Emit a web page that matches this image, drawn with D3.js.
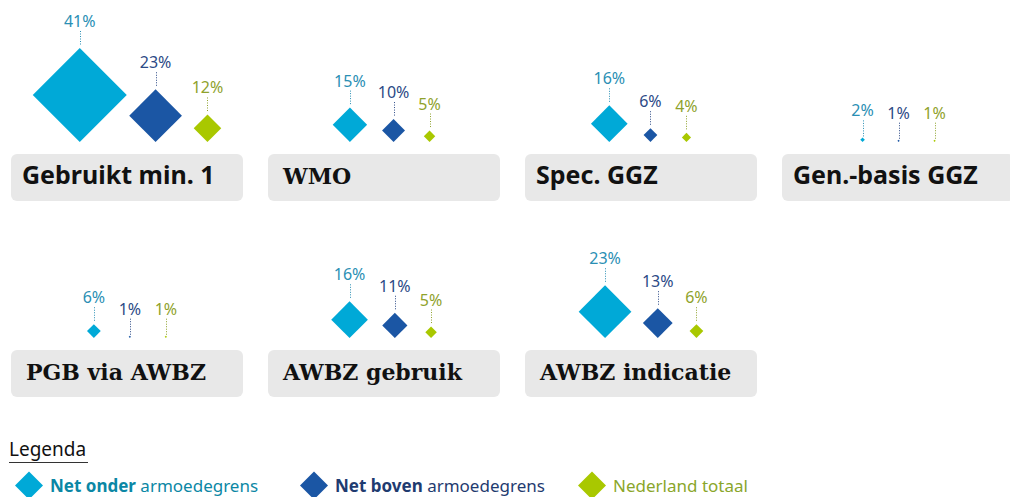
<!DOCTYPE html>
<html>
<head>
<meta charset="utf-8">
<script src="https://cdn.jsdelivr.net/npm/d3@7"></script>
<style>
  body { margin: 0; background: #fff; }
  svg { display: block; }
</style>
</head>
<body>
<script>
// data
const panels = ["Gebruikt min. 1", "WMO", "Spec. GGZ", "Gen.-basis GGZ", "PGB via AWBZ", "AWBZ gebruik", "AWBZ indicatie"];
const netOnder = [41, 15, 16, 2, 6, 16, 23];
const netBoven = [23, 10, 6, 1, 1, 11, 13];
const nederland = [12, 5, 4, 1, 1, 5, 6];
const legendBold = ["Net onder", "Net boven", ""];
const legendRest = ["armoedegrens", "armoedegrens", "Nederland totaal"];
const legendTitle = "Legenda";

// styling
const fills = ["#00a9d7", "#1b56a4", "#a9c800"];
const labelColors = ["#2a8fb4", "#2c4a86", "#8fa22c"];
const legendColors = ["#0b87a5", "#1f3b70", "#8aa62a"];
const serifPanels = new Set(["WMO", "PGB via AWBZ", "AWBZ gebruik", "AWBZ indicatie"]);

const w = 1010, h = 497;
const boxW = 232, boxH = 47;

const svg = d3.select('body').append('svg')
    .attr('width', w)
    .attr('height', h);

// grid of panels
const colX = d3.scaleLinear().domain([0, 1]).range([11, 268]);
const rowY = d3.scaleLinear().domain([0, 1]).range([154, 350]);

// half diagonal of a diamond
const size = d3.scaleLinear()
    .domain([0, d3.max(netOnder)])
    .range([0, 47]);

const series = [netOnder, netBoven, nederland];

panels.forEach((name, i) => {
    const col = i % 4;
    const row = Math.floor(i / 4);
    const bx = colX(col);
    const by = rowY(row);

    const g = svg.append('g');

    g.append('rect')
        .attr('x', bx)
        .attr('y', by)
        .attr('width', boxW)
        .attr('height', boxH)
        .attr('rx', 6)
        .attr('fill', '#e8e8e8');

    const serif = serifPanels.has(name);
    g.append('text')
        .attr('x', bx + (serif ? 15 : 11))
        .attr('y', by + 30)
        .attr('font-family', serif ? '"DejaVu Serif", serif' : '"Noto Sans", sans-serif')
        .attr('font-weight', 'bold')
        .attr('font-size', serif ? 22 : 25)
        .attr('fill', '#111')
        .text(name);

    // diamonds, placed next to each other and centred on the box
    const vals = series.map(s => s[i]);
    const halves = vals.map(v => size(v));
    const offs = [0];
    for (let k = 1; k < vals.length; k++) {
        const step = Math.max(36, 0.72 * (halves[k - 1] + halves[k]) + 23);
        offs.push(offs[k - 1] + step);
    }
    const left = offs[0] - halves[0];
    const right = offs[2] + halves[2];
    const shift = bx + boxW / 2 - (left + right) / 2;
    const base = by - 12;

    vals.forEach((v, k) => {
        const cx = shift + offs[k];
        const hd = halves[k];
        const cy = base - hd;
        const top = base - 2 * hd;

        g.append('path')
            .attr('d', `M${cx},${top}L${cx + hd},${cy}L${cx},${base}L${cx - hd},${cy}Z`)
            .attr('fill', fills[k]);

        const ty = Math.min(top - 21, base - 22);
        g.append('text')
            .attr('x', cx)
            .attr('y', ty)
            .attr('text-anchor', 'middle')
            .attr('font-family', '"Noto Sans", sans-serif')
            .attr('font-size', 16)
            .attr('fill', labelColors[k])
            .text(v + '%');

        const y2 = hd < 4 ? base - 2 * hd - 0.5 : top - 3;
        g.append('line')
            .attr('x1', Math.round(cx) + 0.5)
            .attr('x2', Math.round(cx) + 0.5)
            .attr('y1', ty + 4)
            .attr('y2', y2)
            .attr('stroke', labelColors[k])
            .attr('stroke-width', 1)
            .attr('stroke-dasharray', '1,1.5');
    });
});

// legend
svg.append('text')
    .attr('x', 9)
    .attr('y', 456)
    .attr('font-family', '"Noto Sans", sans-serif')
    .attr('font-size', 19)
    .attr('fill', '#111')
    .text(legendTitle);

svg.append('line')
    .attr('x1', 9)
    .attr('x2', 88)
    .attr('y1', 462.5)
    .attr('y2', 462.5)
    .attr('stroke', '#333')
    .attr('stroke-width', 1.2);

const legX = d3.scaleOrdinal().domain([0, 1, 2]).range([29, 314, 592]);
const lhd = 14;
const ly = 485.5;

legendRest.forEach((rest, k) => {
    const cx = legX(k);
    svg.append('path')
        .attr('d', `M${cx},${ly - lhd}L${cx + lhd},${ly}L${cx},${ly + lhd}L${cx - lhd},${ly}Z`)
        .attr('fill', fills[k]);

    const t = svg.append('text')
        .attr('x', cx + 21)
        .attr('y', 492)
        .attr('font-family', '"Noto Sans", sans-serif')
        .attr('font-size', 17)
        .attr('fill', legendColors[k]);
    if (legendBold[k]) {
        t.append('tspan').attr('font-weight', 'bold').text(legendBold[k] + ' ');
    }
    t.append('tspan').text(rest);
});
</script>
</body>
</html>
